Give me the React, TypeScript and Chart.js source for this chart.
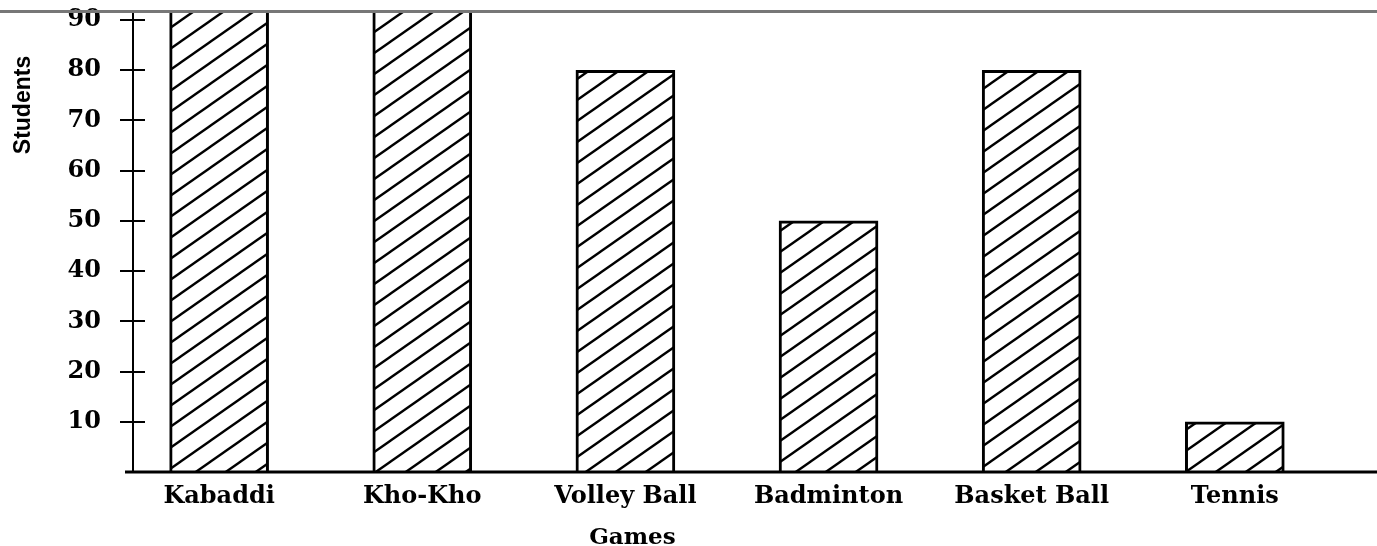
import React, { useEffect, useRef } from 'react';
import { Chart, registerables } from 'chart.js';

Chart.register(...registerables);

const categories = ['Kabaddi', 'Kho-Kho', 'Volley Ball', 'Badminton', 'Basket Ball', 'Tennis'];
const students = [100, 100, 80, 50, 80, 10];
const yTicks = [10, 20, 30, 40, 50, 60, 70, 80, 90];
const xTitle = 'Games';
const yTitle = 'Students';

function makeHatch(): CanvasPattern | string {
  const w = 30;
  const h = 21;
  const c = document.createElement('canvas');
  c.width = w;
  c.height = h;
  const ctx = c.getContext('2d');
  if (!ctx) return '#fff';
  ctx.fillStyle = '#ffffff';
  ctx.fillRect(0, 0, w, h);
  ctx.strokeStyle = '#000000';
  ctx.lineWidth = 2.4;
  for (const k of [-1, 0, 1]) {
    ctx.beginPath();
    ctx.moveTo(-2, h + (2 * h) / w + k * h);
    ctx.lineTo(w + 2, -(2 * h) / w + k * h);
    ctx.stroke();
  }
  const p = ctx.createPattern(c, 'repeat');
  return p || '#fff';
}

const decor = {
  id: 'decor',
  afterDraw(chart: any) {
    const { ctx, chartArea: a, scales } = chart;
    const ys = scales.y;
    const xs = scales.x;
    ctx.save();
    // top frame line
    ctx.strokeStyle = '#777777';
    ctx.lineWidth = 3;
    ctx.beginPath();
    ctx.moveTo(0, a.top - 0.5);
    ctx.lineTo(chart.width, a.top - 0.5);
    ctx.stroke();
    // y tick marks crossing the axis
    ctx.strokeStyle = '#000';
    ctx.lineWidth = 2;
    ctx.beginPath();
    for (const t of yTicks) {
      const py = Math.round(ys.getPixelForValue(t));
      ctx.moveTo(a.left - 13, py);
      ctx.lineTo(a.left + 12, py);
    }
    ctx.stroke();
    // baseline
    ctx.lineWidth = 3;
    ctx.beginPath();
    ctx.moveTo(a.left - 8, a.bottom);
    ctx.lineTo(a.right, a.bottom);
    ctx.stroke();
    // x title
    ctx.fillStyle = '#000';
    ctx.font = 'bold 23px "DejaVu Serif"';
    ctx.textAlign = 'center';
    ctx.textBaseline = 'alphabetic';
    ctx.fillText(xTitle, xs.getPixelForValue(2) + 7, 544);
    // y title
    ctx.translate(24, 105);
    ctx.rotate(-Math.PI / 2);
    ctx.font = 'bold 23px "Liberation Sans"';
    ctx.textBaseline = 'middle';
    ctx.fillText(yTitle, 0, 0);
    ctx.restore();
  },
};

export default function App() {
  const ref = useRef<HTMLCanvasElement | null>(null);

  useEffect(() => {
    if (!ref.current) return;
    const hatch = makeHatch();
    const chart = new Chart(ref.current, {
      type: 'bar',
      data: {
        datasets: [
          {
            label: yTitle,
            data: students.map((v, i) => ({ x: i, y: v })),
            backgroundColor: hatch as any,
            borderColor: '#000',
            borderWidth: 3,
            barThickness: 99,
          },
        ],
      },
      options: {
        animation: false,
        responsive: true,
        maintainAspectRatio: false,
        layout: { padding: { top: 12, right: 0, left: 0, bottom: 0 } },
        plugins: { legend: { display: false }, tooltip: { enabled: false } },
        scales: {
          x: {
            type: 'linear',
            offset: false,
            min: -0.424,
            max: 5.7,
            grid: { display: false, offset: false },
            border: { display: false },
            afterBuildTicks: (s: any) => {
              s.ticks = categories.map((_, i) => ({ value: i }));
            },
            afterFit: (s: any) => {
              s.height = 74;
              s.paddingLeft = 0;
              s.paddingRight = 0;
              s.paddingTop = 0;
              s.paddingBottom = 0;
            },
            ticks: {
              autoSkip: false,
              maxRotation: 0,
              padding: 2,
              color: '#000',
              font: { family: '"DejaVu Serif"', size: 24, weight: 'bold' },
              callback: (v: any) => categories[Math.round(Number(v))] ?? '',
            },
          },
          y: {
            min: 0,
            max: 91.6,
            grid: { display: false },
            border: { display: true, color: '#000', width: 2 },
            afterBuildTicks: (s: any) => {
              s.ticks = yTicks.map((v) => ({ value: v }));
            },
            afterFit: (s: any) => {
              s.width = 133;
              s.paddingTop = 0;
              s.paddingBottom = 0;
              s.paddingLeft = 0;
              s.paddingRight = 0;
            },
            ticks: {
              padding: 24,
              color: '#000',
              font: { family: '"DejaVu Serif"', size: 24, weight: 'bold' },
            },
          },
        },
      },
      plugins: [decor],
    });
    return () => chart.destroy();
  }, []);

  return (
    <div style={{ position: 'fixed', left: 0, top: 0, width: 1377, height: 546, background: '#fff' }}>
      <canvas ref={ref} />
    </div>
  );
}
